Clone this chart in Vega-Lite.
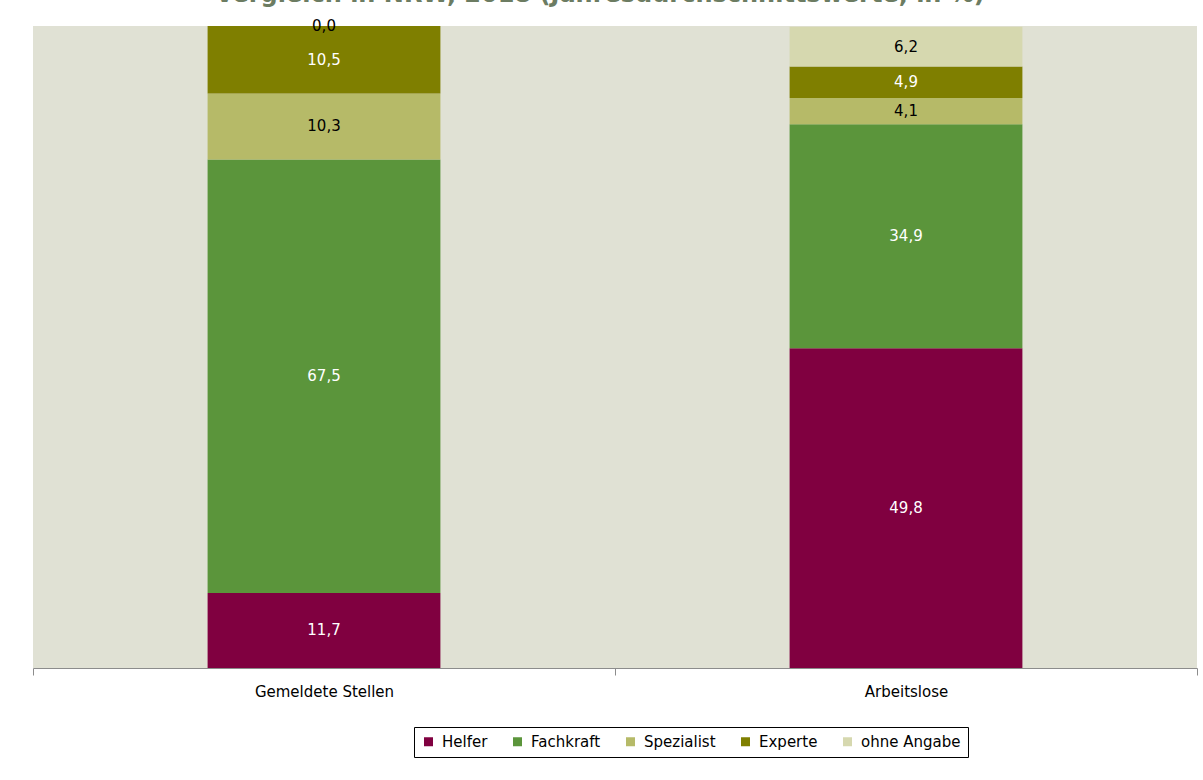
{
  "$schema": "https://vega.github.io/schema/vega-lite/v6.json",
  "width": 1164,
  "height": 642,
  "autosize": {"type": "none"},
  "padding": {"top": 26, "left": 33, "right": 6, "bottom": 112},
  "background": "white",
  "title": {
    "text": "Vergleich in NRW, 2018 (Jahresdurchschnittswerte, in %)",
    "anchor": "middle",
    "baseline": "alphabetic",
    "offset": 13,
    "dy": 20,
    "dx": -15,
    "font": "DejaVu Sans",
    "fontSize": 24,
    "fontWeight": "bold",
    "color": "#6C7C62"
  },
  "config": {
    "locale": {"number": {"decimal": ",", "thousands": ".", "grouping": [3], "currency": ["", " €"]}},
    "view": {"fill": "#E0E1D4", "stroke": null},
    "font": "DejaVu Sans"
  },
  "data": {
    "values": [
      {"gruppe": "Gemeldete Stellen", "kategorie": "Helfer", "rang": 1, "wert": 11.7},
      {"gruppe": "Gemeldete Stellen", "kategorie": "Fachkraft", "rang": 2, "wert": 67.5},
      {"gruppe": "Gemeldete Stellen", "kategorie": "Spezialist", "rang": 3, "wert": 10.3},
      {"gruppe": "Gemeldete Stellen", "kategorie": "Experte", "rang": 4, "wert": 10.5},
      {"gruppe": "Gemeldete Stellen", "kategorie": "ohne Angabe", "rang": 5, "wert": 0.0},
      {"gruppe": "Arbeitslose", "kategorie": "Helfer", "rang": 1, "wert": 49.8},
      {"gruppe": "Arbeitslose", "kategorie": "Fachkraft", "rang": 2, "wert": 34.9},
      {"gruppe": "Arbeitslose", "kategorie": "Spezialist", "rang": 3, "wert": 4.1},
      {"gruppe": "Arbeitslose", "kategorie": "Experte", "rang": 4, "wert": 4.9},
      {"gruppe": "Arbeitslose", "kategorie": "ohne Angabe", "rang": 5, "wert": 6.2}
    ]
  },
  "transform": [
    {"stack": "wert", "groupby": ["gruppe"], "sort": [{"field": "rang", "order": "ascending"}], "as": ["y0", "y1"]},
    {"calculate": "(datum.y0 + datum.y1) / 2", "as": "ymid"}
  ],
  "encoding": {
    "x": {
      "field": "gruppe",
      "type": "nominal",
      "sort": ["Gemeldete Stellen", "Arbeitslose"],
      "scale": {"paddingInner": 0, "paddingOuter": 0},
      "axis": {
        "title": null,
        "labelAngle": 0,
        "labelFont": "DejaVu Sans",
        "labelFontSize": 15,
        "labelColor": "#000000",
        "labelPadding": 9,
        "domainColor": "#8C8C8C",
        "tickColor": "#8C8C8C",
        "tickSize": 7,
        "tickBand": "extent"
      }
    }
  },
  "layer": [
    {
      "mark": {"type": "bar", "width": {"band": 0.4}},
      "encoding": {
        "y": {"field": "y0", "type": "quantitative", "scale": {"domain": [0, 100], "nice": false}, "axis": null},
        "y2": {"field": "y1"},
        "color": {
          "field": "kategorie",
          "type": "nominal",
          "scale": {
            "domain": ["Helfer", "Fachkraft", "Spezialist", "Experte", "ohne Angabe"],
            "range": ["#800040", "#5B953B", "#B6BA68", "#7F7F00", "#D6D8AF"]
          },
          "legend": {
            "title": null,
            "orient": "none",
            "direction": "horizontal",
            "legendX": 381,
            "legendY": 701,
            "symbolType": "square",
            "symbolSize": 81,
            "symbolStrokeWidth": 0,
            "labelFont": "DejaVu Sans",
            "labelFontSize": 15,
            "labelColor": "#000000",
            "labelOffset": 6,
            "columnPadding": 22,
            "padding": 7,
            "strokeColor": "#000000",
            "fillColor": "#FFFFFF"
          }
        }
      }
    },
    {
      "mark": {"type": "text", "font": "DejaVu Sans", "fontSize": 15, "baseline": "middle", "align": "center"},
      "encoding": {
        "y": {"field": "ymid", "type": "quantitative", "scale": {"domain": [0, 100], "nice": false}},
        "text": {"field": "wert", "type": "quantitative", "format": ".1f"},
        "color": {
          "condition": {"test": "datum.kategorie === 'Spezialist' || datum.kategorie === 'ohne Angabe'", "value": "#000000"},
          "value": "#FFFFFF"
        }
      }
    }
  ]
}
